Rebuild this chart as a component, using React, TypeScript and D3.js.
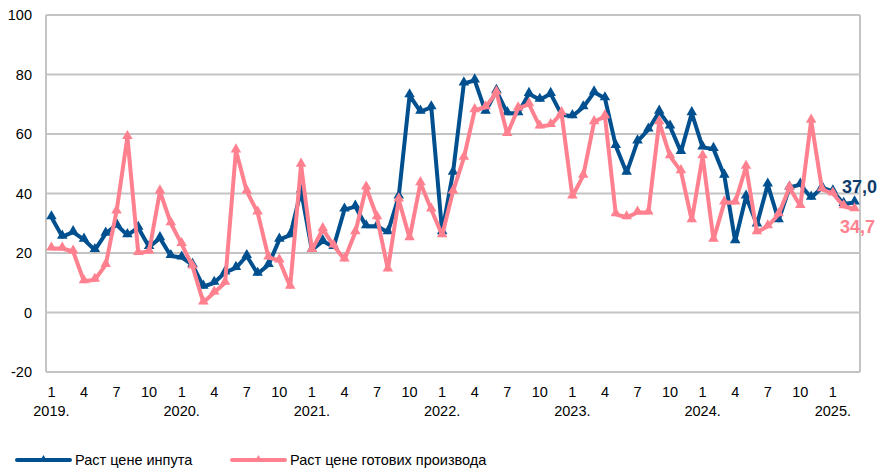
import React from "react";
import * as d3 from "d3";

// monthly, Jan 2019 - Mar 2025
const years = ["2019.", "2020.", "2021.", "2022.", "2023.", "2024.", "2025."];
const monthTicks = [1, 4, 7, 10];
const inputPrices = [
  32, 25.5, 27, 24.5, 21, 26.5, 29.5, 26, 28.5, 22, 25, 19,
  18.5, 16, 8.7, 10, 13.5, 15, 19, 13, 16, 24.5, 26, 41,
  21, 24, 22, 34.6, 35.6, 29, 29, 27, 39, 73, 67.5, 69,
  27, 47, 77, 78, 67.5, 74.5, 67, 67, 73.5, 71.5, 73.5, 66.5,
  66, 69, 74, 72, 56, 47, 57.5, 61.5, 67.5, 62.5, 54, 67,
  55.5, 55, 46, 24, 39, 29.6, 43, 31, 42, 43, 38.6, 42,
  40.7, 36.5, 37.0,
];
const finishedPrices = [
  21.5, 21.5, 20.5, 10.5, 11, 16, 34, 59, 20, 20.5, 40.7, 30,
  23, 15.5, 3.4, 6.7, 10, 54.5, 40.7, 33.6, 18.5, 17.5, 8.7, 49.7,
  21, 28, 22.5, 17.8, 27, 42, 32, 14.5, 38, 25, 43.5, 34.6,
  26, 40.7, 52, 68, 69, 74, 60, 68.6, 70, 62.5, 63, 67,
  39, 46, 64, 66, 33, 32, 33.6, 33.6, 64, 52.5, 47.5, 31,
  52.5, 24.5, 37, 37, 49, 27, 29, 33, 42, 35.8, 64.5, 41.4,
  40, 35.7, 34.7,
];
const yTicks = [-20, 0, 20, 40, 60, 80, 100];
const seriesNames = ["Раст цене инпута", "Раст цене готових производа"];

const W = 885;
const H = 470;
const BLUE = "#00508f";
const PINK = "#ff808e";
const font = "'Liberation Sans', Arial, sans-serif";

export default function App() {
  const months = d3.range(inputPrices.length);
  const x = d3.scaleBand<number>().domain(months).range([46, 860]);
  const cx = (i: number) => (x(i) as number) + x.bandwidth() / 2;
  const y = d3.scaleLinear().domain([-20, 100]).range([372, 15]);

  const line = d3
    .line<number>()
    .x((_, i) => cx(i))
    .y((d) => y(d));
  const tri = d3.symbol(d3.symbolTriangle, 48)();
  const smallTri = d3.symbol(d3.symbolTriangle, 22)();

  const series = [
    { name: seriesNames[0], data: inputPrices, color: BLUE },
    { name: seriesNames[1], data: finishedPrices, color: PINK },
  ];

  const fmt = (v: number) => v.toFixed(1).replace(".", ",");
  const last = months.length - 1;

  return (
    <svg width={W} height={H} style={{ position: "absolute", left: 0, top: 0 }}>
      <rect width={W} height={H} fill="#fff" />
      {yTicks.map((t) => (
        <g key={t}>
          <line x1={46} x2={860} y1={y(t)} y2={y(t)} stroke="#c4c4c4" strokeWidth={2} />
          <text
            x={32}
            y={y(t)}
            dy="0.35em"
            textAnchor="end"
            fontFamily={font}
            fontSize={14.5}
            fill="#000"
          >
            {t}
          </text>
        </g>
      ))}
      <line x1={46} x2={46} y1={15} y2={372} stroke="#c4c4c4" strokeWidth={2} />
      <line x1={860} x2={860} y1={15} y2={372} stroke="#c4c4c4" strokeWidth={2} />

      {months
        .filter((m) => monthTicks.includes((m % 12) + 1))
        .map((m) => (
          <text
            key={"m" + m}
            x={cx(m)}
            y={397}
            textAnchor="middle"
            fontFamily={font}
            fontSize={14.5}
          >
            {(m % 12) + 1}
          </text>
        ))}
      {years.map((yr, k) => (
        <text
          key={yr}
          x={cx(k * 12)}
          y={416}
          textAnchor="middle"
          fontFamily={font}
          fontSize={14.5}
        >
          {yr}
        </text>
      ))}

      {series.map((s) => (
        <g key={s.name}>
          <path
            d={line(s.data) || ""}
            fill="none"
            stroke={s.color}
            strokeWidth={4}
            strokeLinejoin="round"
          />
          {s.data.map((v, i) => (
            <path
              key={i}
              d={tri || ""}
              transform={`translate(${cx(i)},${y(v) - 1})`}
              fill={s.color}
            />
          ))}
        </g>
      ))}

      <text
        x={842}
        y={193}
        fontFamily={font}
        fontSize={18}
        fontWeight="bold"
        fill="#0d3b6b"
      >
        {fmt(inputPrices[last])}
      </text>
      <text
        x={840}
        y={233}
        fontFamily={font}
        fontSize={18}
        fontWeight="bold"
        fill={PINK}
      >
        {fmt(finishedPrices[last])}
      </text>

      {series.map((s, k) => {
        const lx = k === 0 ? 17 : 232;
        return (
          <g key={"lg" + k} transform={`translate(${lx},460)`}>
            <line x1={0} x2={53} y1={0} y2={0} stroke={s.color} strokeWidth={4} strokeLinecap="round" />
            <path d={smallTri || ""} transform="translate(26.5,-1)" fill={s.color} />
            <text x={58} y={0} dy="0.35em" fontFamily={font} fontSize={14.5}>
              {s.name}
            </text>
          </g>
        );
      })}
    </svg>
  );
}
